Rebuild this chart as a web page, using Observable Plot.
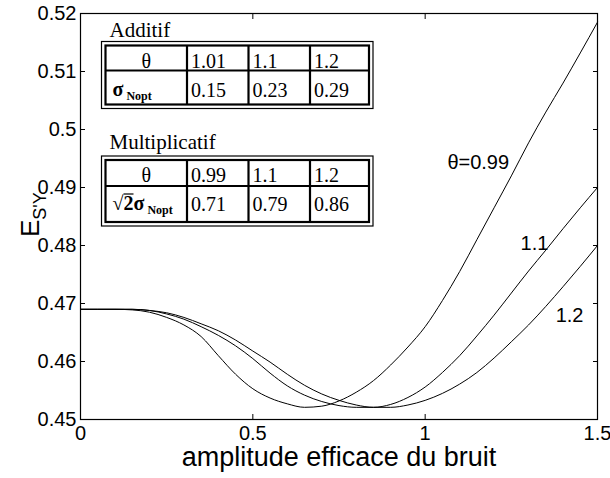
<!DOCTYPE html>
<html><head><meta charset="utf-8">
<script src="https://cdn.jsdelivr.net/npm/d3@7"></script>
<script src="https://cdn.jsdelivr.net/npm/@observablehq/plot@0.6"></script>
<style>body{margin:0;background:#fff} #chart{position:relative;width:610px;height:478px}</style>
</head><body><div id="chart"></div>
<script>
// noise amplitude (x)
const xs = [0,0.05,0.1,0.15,0.2,0.25,0.3,0.35,0.4,0.45,0.5,0.55,0.6,0.65,0.7,0.75,0.8,0.85,0.9,0.95,1,1.05,1.1,1.15,1.2,1.25,1.3,1.35,1.4,1.45,1.5];
// E_S'Y for theta = 0.99, 1.1, 1.2
const y099 = [0.4690,0.4690,0.4690,0.4689,0.4685,0.4676,0.4663,0.4643,0.4610,0.4578,0.4553,0.4537,0.4527,0.4521,0.4523,0.4532,0.4547,0.4567,0.4594,0.4625,0.4660,0.4705,0.4755,0.4810,0.4865,0.4920,0.4977,0.5030,0.5080,0.5132,0.5185];
const y11  = [0.4690,0.4690,0.4690,0.4690,0.4688,0.4682,0.4673,0.4660,0.4645,0.4627,0.4605,0.4580,0.4558,0.4542,0.4531,0.4524,0.4521,0.4521,0.4526,0.4538,0.4556,0.4581,0.4610,0.4644,0.4680,0.4718,0.4756,0.4792,0.4829,0.4865,0.4900];
const y12  = [0.4690,0.4690,0.4690,0.4690,0.4688,0.4684,0.4676,0.4665,0.4653,0.4637,0.4618,0.4599,0.4578,0.4559,0.4544,0.4533,0.4525,0.4521,0.4521,0.4525,0.4533,0.4545,0.4561,0.4581,0.4606,0.4634,0.4663,0.4695,0.4729,0.4764,0.4800];
const seriesNames = ["0.99","1.1","1.2"];
const xTicks = [0,0.5,1,1.5];
const xTickLabels = ["0","0.5","1","1.5"];
const yTicks = [0.45,0.46,0.47,0.48,0.49,0.5,0.51,0.52];
const yTickLabels = ["0.45","0.46","0.47","0.48","0.49","0.5","0.51","0.52"];
// curve labels
const curveLabels = [
  {x:1.154, y:0.4943, t:"θ=0.99"},
  {x:1.317, y:0.4803, t:"1.1"},
  {x:1.419, y:0.4679, t:"1.2"}
];
const xLabel = "amplitude efficace du bruit";
// inset tables
const addTitle = "Additif";
const addTheta = ["1.01","1.1","1.2"];
const addSigma = ["0.15","0.23","0.29"];
const mulTitle = "Multiplicatif";
const mulTheta = ["0.99","1.1","1.2"];
const mulSigma = ["0.71","0.79","0.86"];

const data = xs.flatMap((x,i)=>[
  {x, y:y099[i], s:seriesNames[0]},
  {x, y:y11[i], s:seriesNames[1]},
  {x, y:y12[i], s:seriesNames[2]}
]);
const fmtX = d => xTickLabels[xTicks.indexOf(d)];
const fmtY = d => yTickLabels[yTicks.findIndex(v=>Math.abs(v-d)<1e-9)];

const plot = Plot.plot({
  width:610, height:478,
  marginLeft:80, marginRight:13, marginTop:13, marginBottom:59,
  style:{fontFamily:"'Liberation Sans', Arial, sans-serif", background:"white", color:"black", overflow:"visible"},
  x:{domain:[0,1.5]},
  y:{domain:[0.45,0.52]},
  marks:[
    Plot.line(data,{x:"x",y:"y",z:"s",stroke:"black",strokeWidth:1,curve:"monotone-x"}),
    Plot.axisX(xTicks,{anchor:"bottom",tickSize:-5,tickPadding:11,tickFormat:fmtX,fontSize:20,label:null}),
    Plot.axisX(xTicks,{anchor:"top",tickSize:-5,tickFormat:()=>"",label:null}),
    Plot.axisY(yTicks,{anchor:"left",tickSize:-5,tickPadding:9,tickFormat:fmtY,fontSize:20,label:null}),
    Plot.axisY(yTicks,{anchor:"right",tickSize:-5,tickFormat:()=>"",label:null}),
    Plot.frame({stroke:"black",strokeWidth:1.2}),
    Plot.text(curveLabels,{x:"x",y:"y",text:"t",fontSize:20,fill:"black"}),
    Plot.text([xLabel],{frameAnchor:"bottom",dy:46,fontSize:27,fill:"black"})
  ]
});
document.getElementById("chart").appendChild(plot);

const svg = d3.select(plot);
// y label E_{S'Y}
const yl = svg.append("text")
  .attr("transform","translate(39,237) rotate(-90)")
  .attr("text-anchor","start")
  .attr("font-family","'Liberation Sans', Arial, sans-serif")
  .attr("font-size",26).attr("fill","black");
yl.append("tspan").text("E");
yl.append("tspan").attr("dy",7).attr("font-size",18).text("S'Y");

function drawTable(g, o){
  const serif = "'Liberation Serif', 'Times New Roman', serif";
  const txt = (x,y,s,size)=>g.append("text").attr("x",x).attr("y",y).attr("text-anchor","start").attr("font-family",serif).attr("font-size",size||20).attr("fill","black").text(s);
  txt(o.x0+8,o.titleY,o.title,21);
  const L=o.x0, T=o.y0, R=o.x1, B=o.y1;
  g.append("rect").attr("x",L).attr("y",T).attr("width",R-L).attr("height",B-T).attr("fill","white").attr("stroke","black").attr("stroke-width",1.2);
  g.append("rect").attr("x",L+4).attr("y",T+4).attr("width",R-L-8).attr("height",B-T-8).attr("fill","none").attr("stroke","black").attr("stroke-width",2.2);
  g.append("line").attr("x1",L+4).attr("x2",R-4).attr("y1",o.rowY).attr("y2",o.rowY).attr("stroke","black").attr("stroke-width",2.2);
  o.cols.forEach(c=>g.append("line").attr("x1",c).attr("x2",c).attr("y1",T+4).attr("y2",B-4).attr("stroke","black").attr("stroke-width",2.2));
  g.append("text").attr("x",(L+4+o.cols[0])/2).attr("y",o.b1).attr("text-anchor","middle").attr("font-family",serif).attr("font-size",20).attr("fill","black").text("θ");
  o.top.forEach((v,i)=>txt(o.cols[i]+4,o.b1,v));
  o.bot.forEach((v,i)=>txt(o.cols[i]+4,o.b2,v));
  const t = g.append("text").attr("x",L+11).attr("y",o.b2-1).attr("text-anchor","start").attr("font-family",serif).attr("font-size",20).attr("font-weight","bold").attr("fill","black");
  if(o.sqrt){
    t.append("tspan").attr("font-weight","normal").text("√");
    t.append("tspan").text("2σ");
    g.append("line").attr("x1",L+22).attr("x2",L+32).attr("y1",o.b2-17).attr("y2",o.b2-17).attr("stroke","black").attr("stroke-width",1.2);
  } else {
    t.append("tspan").text("σ");
  }
  t.append("tspan").attr("dx",3).attr("dy",4).attr("font-size",12).text("Nopt");
}
const tg = svg.append("g");
drawTable(tg,{x0:101.5,y0:41.5,x1:373,y1:108.5,rowY:70.5,cols:[187,248.5,310],title:addTitle,titleY:37,b1:67.5,b2:96.5,top:addTheta,bot:addSigma,sqrt:false});
drawTable(tg,{x0:101.5,y0:156,x1:373,y1:226,rowY:186,cols:[187,248.5,310],title:mulTitle,titleY:149,b1:182,b2:211,top:mulTheta,bot:mulSigma,sqrt:true});
</script></body></html>
